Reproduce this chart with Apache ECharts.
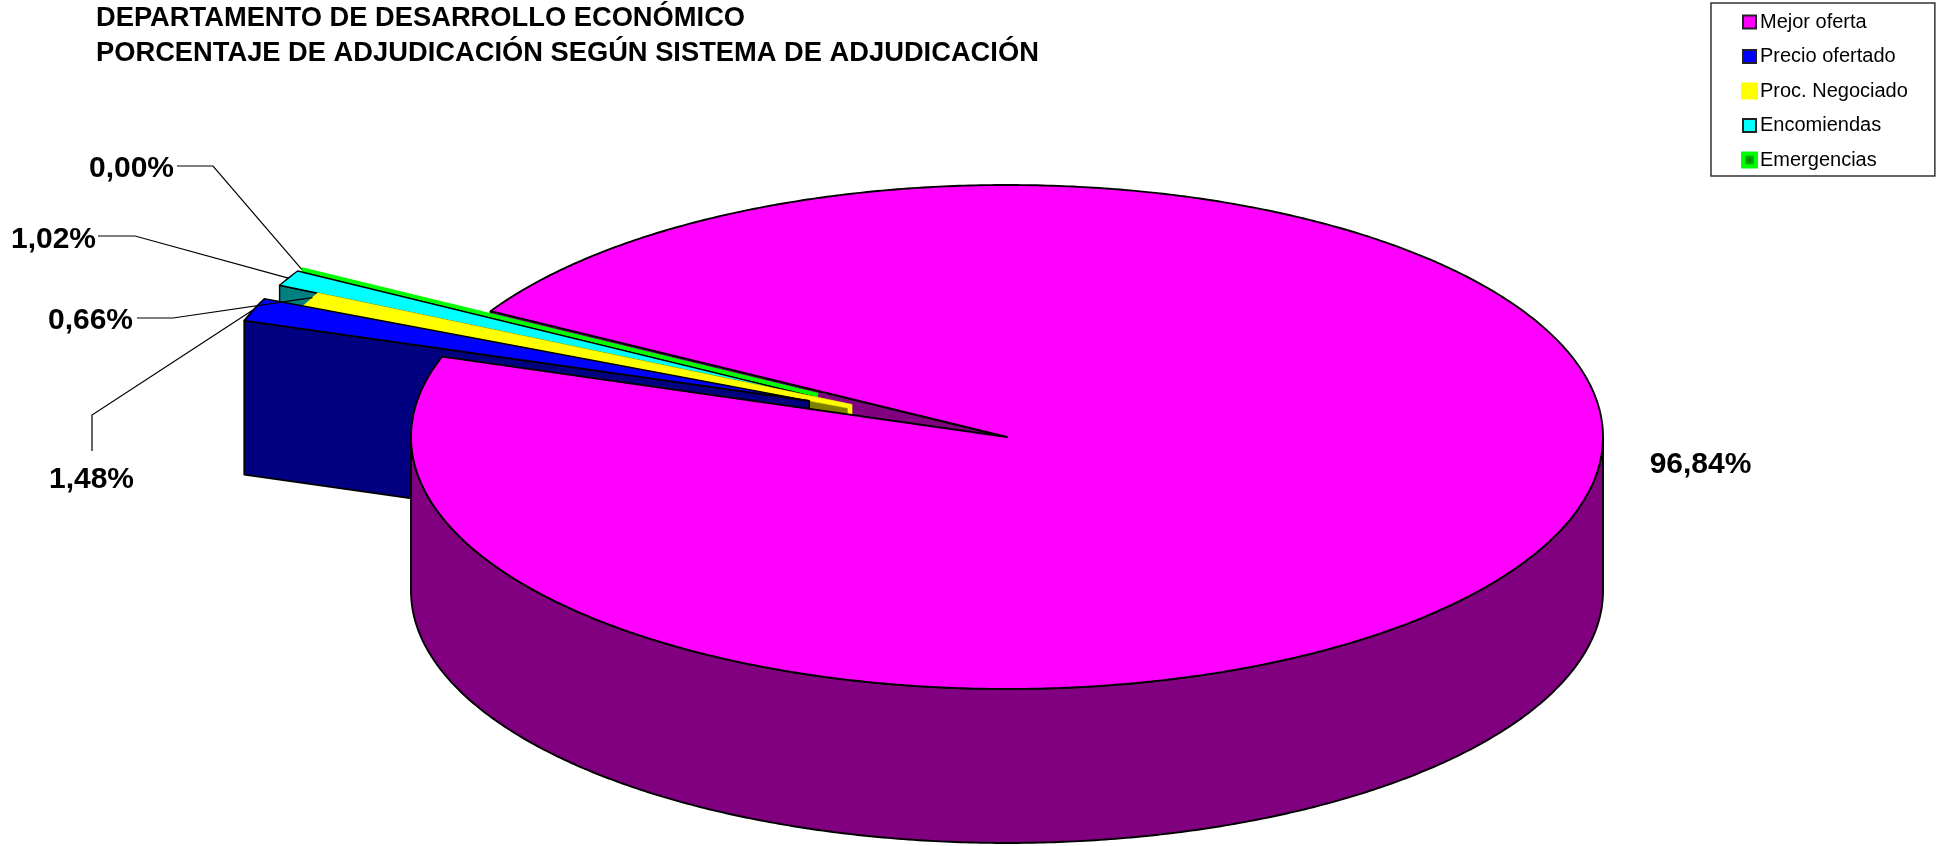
<!DOCTYPE html>
<html>
<head>
<meta charset="utf-8">
<style>html,body{margin:0;padding:0;background:#fff}#c{width:1944px;height:846px}</style>
<script src="https://cdn.jsdelivr.net/npm/echarts@6/dist/echarts.min.js"></script>
</head>
<body>
<div id="c"></div>
<script>
// ---- data ----
const categories = ['Mejor oferta', 'Precio ofertado', 'Proc. Negociado', 'Encomiendas', 'Emergencias'];
const percentages = [96.84, 1.48, 0.66, 1.02, 0.00];
const titleLines = ['DEPARTAMENTO DE DESARROLLO ECONÓMICO', 'PORCENTAJE DE ADJUDICACIÓN SEGÚN SISTEMA DE ADJUDICACIÓN'];

// ---- styles and layout ----
const topColors  = ['#ff00ff', '#0000ff', '#ffff00', '#00ffff', '#00ff00'];
const wallColors = ['#800080', '#000080', '#808000', '#008080', '#008000'];
const strokeWidths = [1.9, 1.7, 0, 1.4, 0];
// how far each slice is pulled out, in axis units; lower edge may sit apart from the upper one
const explode    = [[0, 0], [-0.332, 0.143], [-0.26, 0.129], [-0.324, 0.159], [-0.317, 0.166]];
const explodeLow = [[0, 0], [-0.332, 0.143], [-0.2668, 0.115], [-0.324, 0.159], [-0.317, 0.166]];
const firstSliceAngle = 150.03;   // math degrees, slices run clockwise
const depth = 0.611;              // pie thickness, in axis units
const FONT = '"Liberation Sans", Arial, sans-serif';
// label centre and leader path (pixels) for each category
const labelLayout = [
  { x: 1700.5, y: 464.5 },
  { x: 91.5, y: 479.5, leader: [[92, 451], [92, 415]] },
  { x: 90.5, y: 320.5, leader: [[137, 318], [173, 318]] },
  { x: 53.5, y: 239.5, leader: [[98, 236], [135, 236]] },
  { x: 131.5, y: 168.5, leader: [[177, 166], [213, 166]] }
];

// ---- geometry derived from values ----
const total = percentages.reduce((a, b) => a + b, 0);
const bounds = [];
let cursor = firstSliceAngle;
percentages.forEach(function (v) {
  const next = cursor - v / total * 360;
  bounds.push([cursor, next]);
  cursor = next;
});
const rad = d => d * Math.PI / 180;
function arcPoints(from, to, ox, oy, dz) {
  const pts = [];
  const n = Math.max(1, Math.ceil(Math.abs(to - from) / 0.5));
  for (let i = 0; i <= n; i++) {
    const a = rad(from + (to - from) * i / n);
    pts.push([ox + Math.cos(a), oy + Math.sin(a) - dz]);
  }
  return pts;
}
function poly(api, pts, fill, stroke, lw) {
  return {
    type: 'polygon',
    shape: { points: pts.map(p => api.coord(p)) },
    style: { fill: fill, stroke: lw ? (stroke || '#000') : fill, lineWidth: lw || 0.6, lineJoin: 'round' }
  };
}
function line(api, pts, color, lw) {
  return {
    type: 'polyline',
    shape: { points: pts },
    style: { fill: null, stroke: color, lineWidth: lw }
  };
}
function renderSlice(params, api) {
  const idx = api.value(0);
  const [ox, oy] = explode[idx];
  const [lx, ly] = explodeLow[idx];
  const [a0, a1] = bounds[idx];
  const apex = [ox, oy];
  const apexLow = [lx, ly];
  const children = [];
  if (idx === 0) {
    // outer wall, visible front half only
    const upper = arcPoints(-180, 0, 0, 0, 0);
    const lower = arcPoints(0, -180, 0, 0, depth);
    children.push(poly(api, upper.concat(lower), wallColors[0], '#000', strokeWidths[0]));
    children.push(poly(api, [apex].concat(arcPoints(a0, a1, ox, oy, 0)), topColors[0], '#000', strokeWidths[0]));
    return { type: 'group', children: children };
  }
  if (percentages[idx] === 0) {
    // a slice with no width shows as a thin strip with a dark underside
    const end = arcPoints(a0, a0, ox, oy, 0)[0];
    const pts = [api.coord(apex), api.coord(end)];
    const under = pts.map(p => [p[0], p[1] + 2.8]);
    return { type: 'group', children: [line(api, under, '#000', 2), line(api, pts, topColors[idx], 4.4)] };
  }
  // radial wall on the lower edge of the wedge
  const p = arcPoints(a0, a0, lx, ly, 0)[0];
  children.push(poly(api, [apexLow, p, [p[0], p[1] - depth], [apexLow[0], apexLow[1] - depth]],
    wallColors[idx], '#000', strokeWidths[idx]));
  if (lx !== ox || ly !== oy) {
    children.push(poly(api, [apex, apexLow, [apexLow[0], apexLow[1] - depth], [apex[0], apex[1] - depth]],
      topColors[idx], '#000', strokeWidths[idx]));
  }
  const rim = arcPoints(a0, a1, ox, oy, 0).slice(1);
  children.push(poly(api, [apex, apexLow, p].concat(rim), topColors[idx], '#000', strokeWidths[idx]));
  return { type: 'group', children: children };
}
function renderInnerWall(params, api) {
  // far cut face of the main slice, seen through the gap
  const a = bounds[0][0];
  const p = arcPoints(a, a, 0, 0, 0)[0];
  return poly(api, [[0, 0], p, [p[0], p[1] - depth], [0, -depth]], wallColors[0], '#000', strokeWidths[0]);
}
function renderLabel(params, api) {
  const idx = api.value(0);
  const lay = labelLayout[idx];
  const [ox, oy] = explode[idx];
  const [a0, a1] = bounds[idx];
  const children = [{
    type: 'text',
    style: {
      x: lay.x, y: lay.y, text: percentages[idx].toFixed(2).replace('.', ',') + '%',
      fill: '#000', font: 'bold 30px ' + FONT, textAlign: 'center', textVerticalAlign: 'middle'
    }
  }];
  if (lay.leader) {
    const mid = (a0 + a1) / 2;
    const tip = api.coord(arcPoints(mid, mid, ox, oy, 0)[0]);
    children.push(line(api, lay.leader.concat([tip]), '#000', 1.2));
  }
  return { type: 'group', children: children };
}

// z order: far wall, then slices from the back to the front, then the main slice
const sliceZ = [7, 6, 5, 4, 3];
const series = categories.map((name, i) => ({
  type: 'custom',
  name: name,
  coordinateSystem: 'cartesian2d',
  renderItem: renderSlice,
  z: sliceZ[i],
  silent: true,
  clip: false,
  itemStyle: { color: topColors[i] },
  encode: { x: 0, y: 1 },
  data: [[i, percentages[i]]]
}));
series.push({
  type: 'custom', name: 'cara interior', coordinateSystem: 'cartesian2d', renderItem: renderInnerWall,
  z: 2, silent: true, clip: false, encode: { x: 0, y: 1 }, data: [[0, percentages[0]]]
});
series.push({
  type: 'custom', name: 'etiquetas', coordinateSystem: 'cartesian2d', renderItem: renderLabel,
  z: 9, silent: true, clip: false, encode: { x: 0, y: 1 },
  data: categories.map((c, i) => [i, percentages[i]])
});

const legendIcon = [
  { color: topColors[0], borderColor: '#222', borderWidth: 2 },
  { color: topColors[1], borderColor: '#222', borderWidth: 2 },
  { color: topColors[2], borderColor: topColors[2], borderWidth: 4 },
  { color: topColors[3], borderColor: '#222', borderWidth: 2 },
  { color: { type: 'radial', x: 0.5, y: 0.5, r: 0.5, colorStops: [{ offset: 0, color: '#008000' }, { offset: 0.6, color: '#00c000' }, { offset: 1, color: '#00ff00' }] }, borderColor: topColors[4], borderWidth: 4 }
];

const chart = echarts.init(document.getElementById('c'), null, { renderer: 'canvas' });
chart.setOption({
  animation: false,
  backgroundColor: '#fff',
  title: {
    text: titleLines.join('\n'),
    left: 96, top: 1, padding: 0,
    textStyle: { fontFamily: FONT, fontWeight: 'bold', fontSize: 27.3, lineHeight: 35, color: '#000' }
  },
  legend: {
    data: categories.map((n, i) => ({ name: n, icon: 'rect', itemStyle: legendIcon[i] })),
    orient: 'vertical', left: 1711, top: 3,
    padding: [9, 27, 6, 30],
    itemWidth: 13, itemHeight: 13, itemGap: 14.5,
    borderColor: '#333', borderWidth: 1.5, backgroundColor: '#fff',
    selectedMode: false,
    textStyle: { fontFamily: FONT, fontSize: 20, color: '#000', padding: [0, 0, 0, -1] }
  },
  grid: { left: 411, top: 185, width: 1192, height: 504 },
  xAxis: { type: 'value', min: -1, max: 1, show: false },
  yAxis: { type: 'value', min: -1, max: 1, show: false },
  tooltip: { show: false },
  series: series
});
</script>
</body>
</html>
